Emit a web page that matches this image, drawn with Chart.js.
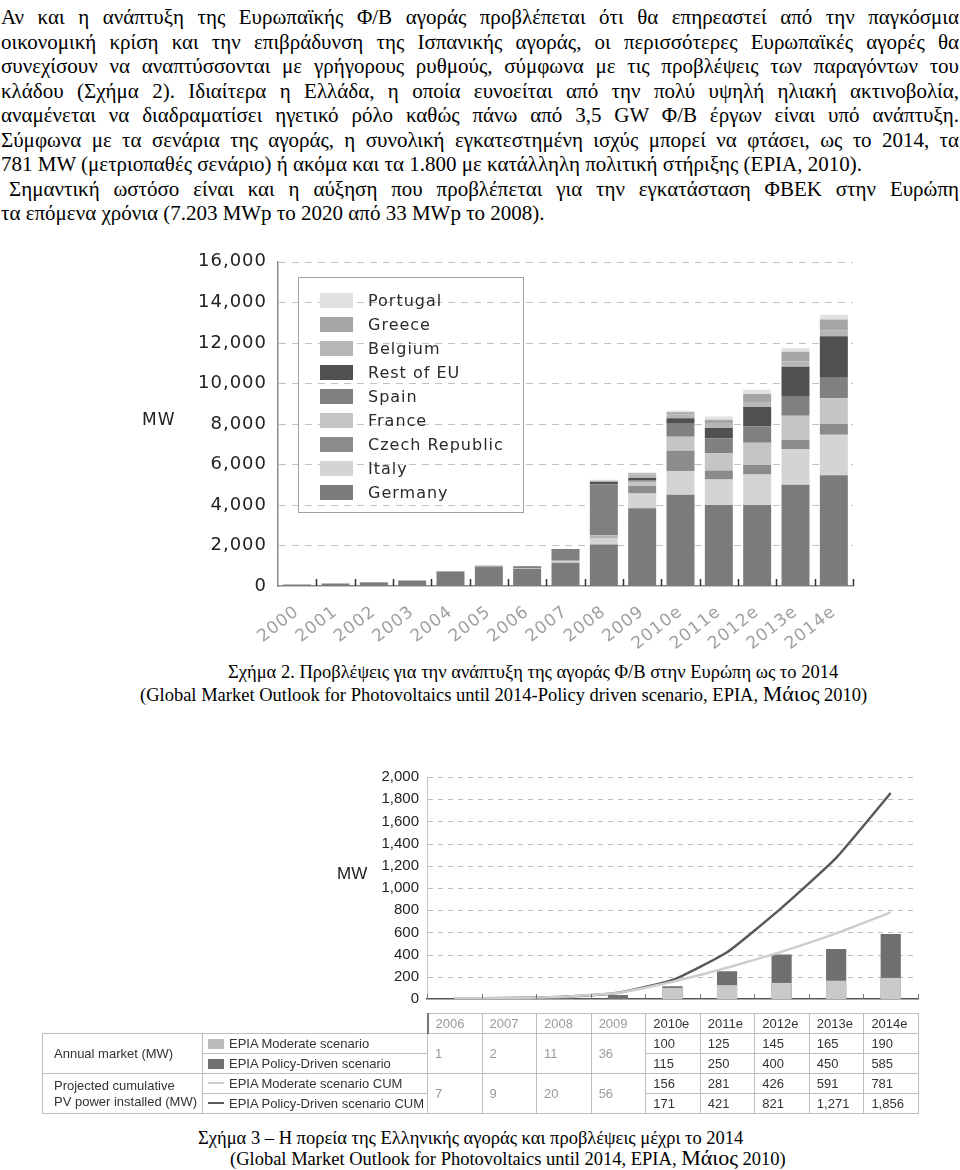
<!DOCTYPE html>
<html>
<head>
<meta charset="utf-8">
<script src="https://cdn.jsdelivr.net/npm/chart.js"></script>
<style>
  body { margin: 0; width: 960px; height: 1170px; position: relative; overflow: hidden; background: #fff; font-family: "Liberation Serif", serif; color: #000; }
  .ln { position: absolute; left: 1px; width: 958px; font-size: 21px; line-height: 24px; }
  .j { text-align: justify; text-align-last: justify; }
  .cap { position: absolute; font-size: 18.5px; line-height: 22px; white-space: nowrap; }
  .cap span { font-size: 22px; }
  .mw { position: absolute; color: #222; }
  #legend1 { position: absolute; left: 298px; top: 277px; width: 226px; height: 236px; border: 1px solid #a0a0a0; box-sizing: border-box;
    font-family: "DejaVu Sans", sans-serif; font-size: 16px; letter-spacing: 1px; color: #2a2a2a; }
  #legend1 div { position: absolute; left: 21px; height: 24px; line-height: 24px; white-space: nowrap; }
  #legend1 i { display: inline-block; width: 33px; height: 15px; vertical-align: -2px; margin-right: 15px; }
  #tbl { position: absolute; left: 42px; top: 1013px; border-collapse: collapse; table-layout: fixed;
    font-family: "Liberation Sans", sans-serif; font-size: 13px; color: #333; }
  #tbl td { border: 1px solid #bdbdbd; padding: 0 0 0 7px; white-space: nowrap; overflow: hidden; }
  #tbl tr.hd td { height: 19px; }
  #tbl tr.rw td { height: 19px; }
  #tbl td.blank { border: none; border-bottom: 1px solid #bdbdbd; }
  #tbl .hist { color: #9a9a9a; }
  #tbl .sw { display: inline-block; width: 16px; height: 10px; margin-right: 5px; vertical-align: -1px; }
  #tbl .sl { display: inline-block; width: 16px; height: 2px; margin-right: 5px; vertical-align: 4px; }
  canvas { position: absolute; }
</style>
</head>
<body>
<div id="text"></div>

<canvas id="chart1" width="740" height="410" style="left:130px; top:240px;"></canvas>
<div class="mw" style="left:142px; top:409px; font-family:'DejaVu Sans',sans-serif; font-size:17px; letter-spacing:1px;">MW</div>
<div id="legend1"></div>

<div class="cap" style="left:228px; top:661px;">Σχήμα 2. Προβλέψεις για την ανάπτυξη της αγοράς Φ/Β στην Ευρώπη ως το 2014</div>
<div class="cap" style="left:140px; top:683px;">(Global Market Outlook for Photovoltaics until 2014-Policy driven scenario, EPIA, <span>Μάιος</span> 2010)</div>

<canvas id="chart2" width="620" height="256" style="left:320px; top:760px;"></canvas>
<div class="mw" style="left:337px; top:864px; font-family:'Liberation Sans',sans-serif; font-size:17px;">MW</div>
<table id="tbl"></table>

<div class="cap" style="left:198px; top:1127px;">Σχήμα 3 – Η πορεία της Ελληνικής αγοράς και προβλέψεις μέχρι το 2014</div>
<div class="cap" style="left:230px; top:1147px;">(Global Market Outlook for Photovoltaics until 2014, EPIA, <span>Μάιος</span> 2010)</div>

<script>
// ---- text above the charts
const textLines = [
  'Αν και η ανάπτυξη της Ευρωπαϊκής Φ/Β αγοράς προβλέπεται ότι θα επηρεαστεί  από την παγκόσμια',
  'οικονομική κρίση και την επιβράδυνση της Ισπανικής αγοράς, οι περισσότερες Ευρωπαϊκές αγορές θα',
  'συνεχίσουν να αναπτύσσονται με γρήγορους ρυθμούς, σύμφωνα με τις προβλέψεις των παραγόντων του',
  'κλάδου (Σχήμα 2).  Ιδιαίτερα η Ελλάδα, η οποία ευνοείται από την πολύ υψηλή ηλιακή ακτινοβολία,',
  'αναμένεται να διαδραματίσει ηγετικό ρόλο  καθώς πάνω από 3,5 GW Φ/Β έργων είναι υπό ανάπτυξη.',
  'Σύμφωνα με τα σενάρια της αγοράς, η συνολική εγκατεστημένη ισχύς μπορεί να φτάσει, ως το 2014, τα',
  '781 MW (μετριοπαθές σενάριο) ή ακόμα και τα 1.800 με κατάλληλη πολιτική στήριξης (EPIA, 2010).',
  'Σημαντική  ωστόσο είναι και η αύξηση που προβλέπεται  για την εγκατάσταση ΦΒΕΚ στην Ευρώπη',
  'τα επόμενα χρόνια (7.203 MWp το 2020 από 33 MWp το 2008).'
];
const justified = [true, true, true, true, true, true, false, true, false];

// ---- chart 1: EU market by country (MW)
const years1 = ['2000', '2001', '2002', '2003', '2004', '2005', '2006', '2007', '2008', '2009',
  '2010e', '2011e', '2012e', '2013e', '2014e'];
const germany  = [70, 110, 170, 260, 700, 950, 850, 1150, 2050, 3840, 4500, 4000, 4000, 5000, 5470];
const italy    = [0, 0, 0, 0, 0, 0, 10, 90, 330, 730, 1180, 1260, 1500, 1760, 2000];
const czech    = [0, 0, 0, 0, 0, 0, 0, 0, 60, 370, 1000, 440, 470, 450, 530];
const france   = [0, 0, 0, 0, 0, 10, 10, 10, 50, 200, 680, 850, 1100, 1190, 1260];
const spain    = [0, 0, 0, 0, 10, 20, 100, 540, 2530, 70, 650, 730, 800, 940, 1060];
const restOfEU = [10, 10, 10, 10, 20, 20, 20, 30, 110, 120, 270, 520, 970, 1480, 2000];
const belgium  = [0, 0, 0, 0, 0, 0, 0, 0, 50, 170, 180, 250, 240, 260, 300];
const greece   = [0, 0, 0, 0, 0, 0, 0, 0, 10, 60, 110, 150, 400, 480, 530];
const portugal = [0, 0, 0, 0, 0, 0, 0, 10, 50, 40, 80, 160, 200, 190, 240];
const countries = ['Germany', 'Italy', 'Czech Republic', 'France', 'Spain', 'Rest of EU', 'Belgium', 'Greece', 'Portugal'];
const countryValues = [germany, italy, czech, france, spain, restOfEU, belgium, greece, portugal];
const countryColors = ['#7b7b7b', '#d4d4d4', '#8c8c8c', '#c5c5c5', '#808080', '#505050', '#b6b6b6', '#a6a6a6', '#e2e2e2'];
const yTicks1 = [0, 2000, 4000, 6000, 8000, 10000, 12000, 14000, 16000];

// ---- chart 2: Greek market (MW)
const years2 = ['2006', '2007', '2008', '2009', '2010e', '2011e', '2012e', '2013e', '2014e'];
const annualModerate = [1, 2, 11, 36, 100, 125, 145, 165, 190];
const annualPolicy   = [1, 2, 11, 36, 115, 250, 400, 450, 585];
const cumModerate    = [7, 9, 20, 56, 156, 281, 426, 591, 781];
const cumPolicy      = [7, 9, 20, 56, 171, 421, 821, 1271, 1856];
const yTicks2 = [0, 200, 400, 600, 800, 1000, 1200, 1400, 1600, 1800, 2000];

// text
let textBox = document.getElementById('text');
textLines.forEach((t, i) => {
  let d = document.createElement('div');
  d.className = 'ln' + (justified[i] ? ' j' : '');
  d.style.top = (5 + i * 24.5) + 'px';
  if (i === 7) { d.style.left = '9px'; d.style.width = '950px'; }
  d.textContent = t;
  textBox.appendChild(d);
});

const fmt = v => Number(v).toLocaleString('en-US');

// short tick marks pointing up from the x axis at category boundaries
const upTicks = {
  id: 'upTicks',
  afterDatasetsDraw(chart, args, opts) {
    let x = chart.scales.x, c = chart.ctx;
    let n = x.ticks.length, w = x.width / n;
    c.save();
    c.strokeStyle = opts.color;
    c.lineWidth = opts.width;
    for (let i = opts.from; i <= n; i++) {
      let px = Math.round(x.left + i * w) + 0.5;
      c.beginPath();
      c.moveTo(px, x.top);
      c.lineTo(px, x.top - opts.len);
      c.stroke();
    }
    c.restore();
  }
};

// dashed horizontal grid at the y ticks (skipping 0, which is the axis)
const dashGrid = {
  id: 'dashGrid',
  beforeDatasetsDraw(chart, args, opts) {
    let y = chart.scales.y, a = chart.chartArea, c = chart.ctx;
    c.save();
    c.strokeStyle = opts.color;
    c.lineWidth = opts.width;
    c.setLineDash(opts.dash);
    y.ticks.forEach(t => {
      if (t.value === 0) return;
      let py = Math.round(y.getPixelForValue(t.value)) + 0.5;
      c.beginPath();
      c.moveTo(a.left + 1, py);
      c.lineTo(a.right, py);
      c.stroke();
    });
    c.restore();
  }
};

const spacing = {
  id: 'spacing',
  beforeDraw(chart) { chart.ctx.letterSpacing = '1px'; }
};

let ctx1 = document.getElementById('chart1').getContext('2d');
let chart1 = new Chart(ctx1, {
  type: 'bar',
  data: {
    labels: years1,
    datasets: countries.map((name, i) => ({
      label: name,
      data: countryValues[i],
      backgroundColor: countryColors[i],
      borderWidth: 0,
      barPercentage: 0.73,
      categoryPercentage: 1
    }))
  },
  options: {
    responsive: false,
    animation: false,
    layout: { padding: { top: 15, right: 17, left: 0, bottom: 0 } },
    plugins: {
      legend: { display: false },
      tooltip: { enabled: false },
      upTicks: { color: '#333', width: 1.5, len: 7, from: 1 },
      dashGrid: { color: '#c2c2c2', width: 1.2, dash: [7, 6] }
    },
    scales: {
      x: {
        stacked: true,
        grid: { display: false, drawTicks: false },
        border: { display: true, color: '#8a8a8a', width: 1.5 },
        ticks: {
          autoSkip: false, minRotation: 38, maxRotation: 38, padding: 16,
          color: '#a0a0a0', font: { family: 'DejaVu Sans', size: 17 }
        },
        afterFit: s => { s.height = 64; }
      },
      y: {
        stacked: true,
        min: 0, max: 16000,
        afterBuildTicks: s => { s.ticks = yTicks1.map(v => ({ value: v })); },
        grid: { display: false, drawTicks: false },
        border: { display: true, color: '#8a8a8a', width: 1.5 },
        ticks: {
          padding: 11, color: '#222',
          font: { family: 'DejaVu Sans', size: 18 },
          callback: v => fmt(v)
        },
        afterFit: s => { s.width = 148; }
      }
    }
  },
  plugins: [upTicks, dashGrid, spacing]
});

// HTML legend built from chart 1 datasets, top entry = top of stack
let legend1 = document.getElementById('legend1');
chart1.data.datasets.slice().reverse().forEach((ds, i) => {
  let d = document.createElement('div');
  d.style.top = (11 + i * 24) + 'px';
  d.innerHTML = '<i style="background:' + ds.backgroundColor + '"></i>' + ds.label;
  legend1.appendChild(d);
});

let ctx2 = document.getElementById('chart2').getContext('2d');
let chart2 = new Chart(ctx2, {
  type: 'bar',
  data: {
    labels: years2,
    datasets: [
      { type: 'line', label: 'EPIA Moderate scenario CUM', data: cumModerate, order: 0,
        borderColor: '#cdcdcd', borderWidth: 2.5, pointRadius: 0, tension: 0.15 },
      { type: 'line', label: 'EPIA Policy-Driven scenario CUM', data: cumPolicy, order: 1,
        borderColor: '#595959', borderWidth: 2.5, pointRadius: 0, tension: 0.15 },
      { label: 'EPIA Moderate scenario', order: 2, grouped: false,
        data: annualModerate.map((v, i) => years2[i].endsWith('e') ? v : null),
        backgroundColor: '#c9c9c9', barPercentage: 0.37, categoryPercentage: 1 },
      { label: 'EPIA Policy-Driven scenario', order: 3, grouped: false,
        data: annualPolicy,
        backgroundColor: '#6f6f6f', barPercentage: 0.37, categoryPercentage: 1 }
    ]
  },
  options: {
    responsive: false,
    animation: false,
    layout: { padding: { top: 15, right: 22, left: 0, bottom: 0 } },
    plugins: {
      legend: { display: false },
      tooltip: { enabled: false },
      upTicks: { color: '#777', width: 1, len: 5, from: 0 },
      dashGrid: { color: '#bdbdbd', width: 1, dash: [5, 5] }
    },
    scales: {
      x: {
        grid: { display: false, drawTicks: false },
        border: { display: true, color: '#555', width: 1.5 },
        ticks: { display: false },
        afterFit: s => { s.height = 4; }
      },
      y: {
        min: 0, max: 2000,
        afterBuildTicks: s => { s.ticks = yTicks2.map(v => ({ value: v })); },
        grid: { display: false, drawTicks: false },
        border: { display: true, color: '#c4c4c4', width: 1 },
        ticks: {
          padding: 8, color: '#222',
          font: { family: 'Liberation Sans', size: 15 },
          callback: v => fmt(v)
        },
        afterFit: s => { s.width = 107; }
      }
    }
  },
  plugins: [upTicks, dashGrid]
});

// data table under chart 2
const colW = chart2.scales.x.width / years2.length;
let tbl = document.getElementById('tbl');
let html = '<colgroup><col style="width:160px"><col style="width:225px">' +
  years2.map(() => '<col style="width:' + colW + 'px">').join('') + '</colgroup>';
html += '<tr class="hd"><td class="blank"></td><td class="blank"></td>' +
  years2.map((y, i) => '<td class="' + (y.endsWith('e') ? '' : 'hist') + '"' +
    (i === 0 ? ' style="border-left:2px solid #777"' : '') + '>' + y + '</td>').join('') + '</tr>';
const rows = [
  { group: 'Annual market (MW)', key: '<i class="sw" style="background:#bcbcbc"></i>EPIA Moderate scenario', vals: annualModerate },
  { group: null, key: '<i class="sw" style="background:#6f6f6f"></i>EPIA Policy-Driven scenario', vals: annualPolicy },
  { group: 'Projected cumulative<br>PV power installed (MW)', key: '<i class="sl" style="background:#cdcdcd"></i>EPIA Moderate scenario CUM', vals: cumModerate },
  { group: null, key: '<i class="sl" style="background:#595959"></i>EPIA Policy-Driven scenario CUM', vals: cumPolicy }
];
rows.forEach(r => {
  html += '<tr class="rw">';
  if (r.group) html += '<td rowspan="2" style="padding-left:11px;line-height:16px">' + r.group + '</td>';
  html += '<td style="padding-left:5px">' + r.key + '</td>';
  years2.forEach((y, i) => {
    if (y.endsWith('e')) html += '<td>' + fmt(r.vals[i]) + '</td>';
    else if (r.group) html += '<td rowspan="2" class="hist">' + fmt(r.vals[i]) + '</td>';
  });
  html += '</tr>';
});
tbl.innerHTML = html;
</script>
</body>
</html>
